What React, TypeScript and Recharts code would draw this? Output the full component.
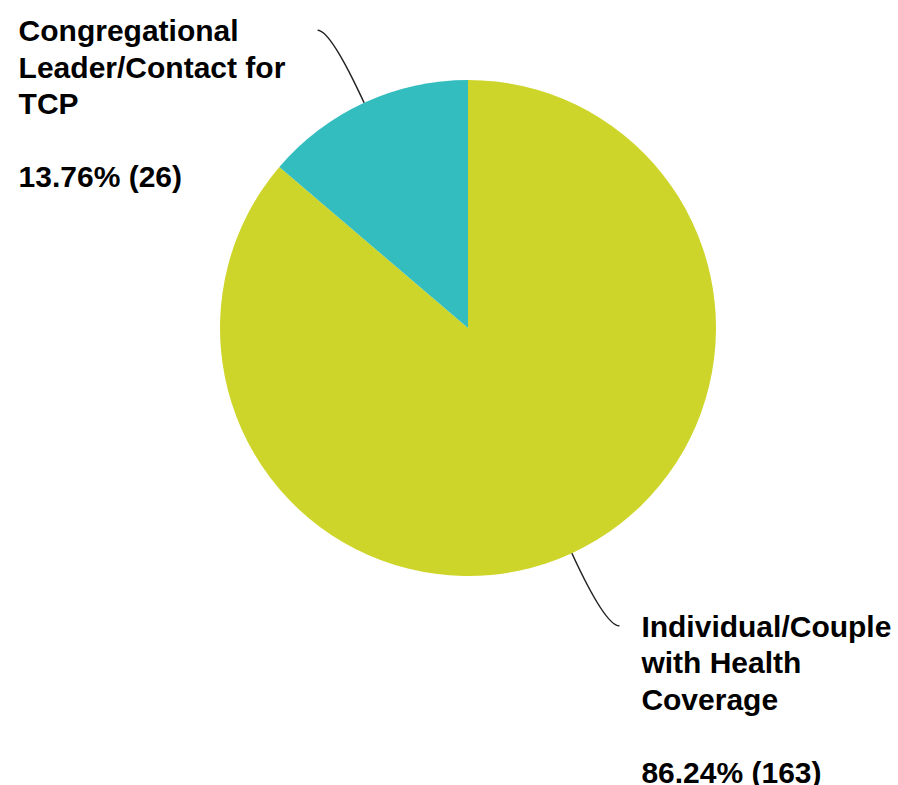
import { PieChart, Pie, Cell } from "recharts";

const categories = [
  "Individual/Couple with Health Coverage",
  "Congregational Leader/Contact for TCP",
];
const counts = [163, 26];
// how each category name wraps in its label
const labelLines = [
  ["Individual/Couple", "with Health", "Coverage"],
  ["Congregational", "Leader/Contact for", "TCP"],
];
const colors = ["#CED52A", "#33BDBF"];

const data = categories.map((name, i) => ({ name, value: counts[i] }));

const RADIAN = Math.PI / 180;
const LINE_H = 36.5;

function renderLabel(props: any) {
  const { cx, cy, midAngle, outerRadius, percent, index } = props;
  const cos = Math.cos(-midAngle * RADIAN);
  const sin = Math.sin(-midAngle * RADIAN);
  const sx = cx + outerRadius * cos;
  const sy = cy + outerRadius * sin;
  const mx = cx + (outerRadius + 80) * cos;
  const my = cy + (outerRadius + 80) * sin;
  const left = cos < 0;
  const ex = mx + (left ? -13 : 14);
  const ey = my;
  const tx = left ? ex - 299 : ex + 22;
  const lines = [...labelLines[index], "", `${(percent * 100).toFixed(2)}% (${counts[index]})`];

  return (
    <g>
      <path
        d={`M${sx},${sy} Q${mx},${my} ${ex},${ey}`}
        stroke="#222"
        strokeWidth={1.5}
        fill="none"
      />
      <text
        x={tx}
        y={ey + 11}
        fill="#000"
        fontFamily="'Liberation Sans', Arial, sans-serif"
        fontWeight="bold"
        fontSize={30}
        textAnchor="start"
      >
        {lines.map((l, i) => (
          <tspan key={i} x={tx} dy={i === 0 ? 0 : LINE_H}>
            {l || " "}
          </tspan>
        ))}
      </text>
    </g>
  );
}

export default function App() {
  return (
    <div style={{ position: "absolute", left: 0, top: 0, background: "#fff" }}>
      <PieChart width={898} height={785}>
        <Pie
          data={data}
          dataKey="value"
          nameKey="name"
          cx={463}
          cy={323}
          outerRadius={248}
          startAngle={90}
          endAngle={-270}
          stroke="none"
          label={renderLabel}
          labelLine={false}
          isAnimationActive={false}
        >
          {data.map((d, i) => (
            <Cell key={d.name} fill={colors[i]} />
          ))}
        </Pie>
      </PieChart>
    </div>
  );
}
